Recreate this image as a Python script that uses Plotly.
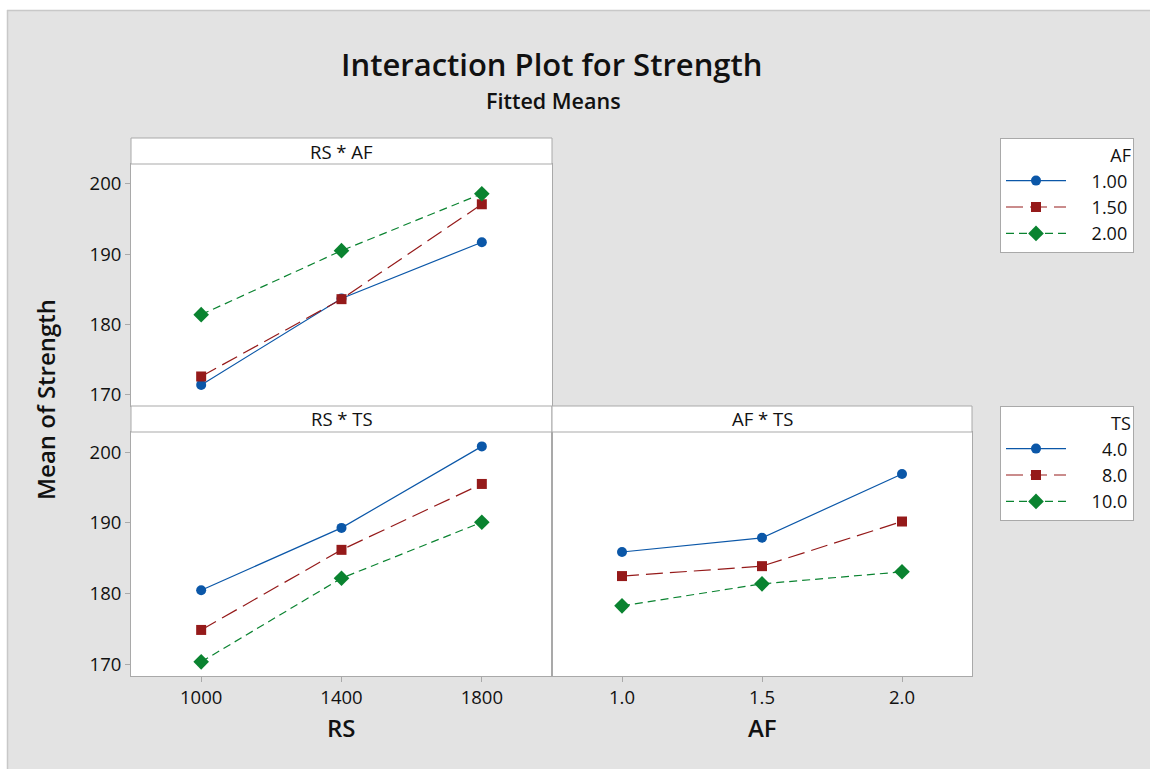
import plotly.graph_objects as go

# ---- data: fitted means of Strength ----
RS_LEVELS = [1000, 1400, 1800]
AF_LEVELS = [1.0, 1.5, 2.0]
AF_TICKTEXT = ["1.0", "1.5", "2.0"]
AF_LABELS = ["1.00", "1.50", "2.00"]
TS_LABELS = ["4.0", "8.0", "10.0"]

# RS * AF  (one list per AF level, over RS)
RS_AF_AF100 = [171.4, 183.7, 191.7]
RS_AF_AF150 = [172.6, 183.6, 197.1]
RS_AF_AF200 = [181.4, 190.5, 198.6]

# RS * TS  (one list per TS level, over RS)
RS_TS_TS4 = [180.5, 189.3, 200.8]
RS_TS_TS8 = [174.9, 186.2, 195.5]
RS_TS_TS10 = [170.4, 182.2, 190.1]

# AF * TS  (one list per TS level, over AF)
AF_TS_TS4 = [185.9, 187.9, 196.9]
AF_TS_TS8 = [182.5, 183.9, 190.2]
AF_TS_TS10 = [178.3, 181.4, 183.1]

Y_TICKS = [170, 180, 190, 200]

# ---- styling ----
W, H = 1150, 769
FONT = "Open Sans"
BG = "#e3e3e3"
FRAME = "#a9a9a9"
INK = "#111111"
COLORS = ["#0b57a8", "#951a1a", "#0a8330"]
SYMBOLS = ["circle", "square", "diamond"]
SIZES = [10, 10, 12]
DASHES = ["solid", "17px,7px", "8px,5px"]


def px(x):
    return x / W


def py(y):
    return 1 - y / H


def right_align(label, width=6):
    # pad with figure spaces so legend labels line up on the right
    return "\u2007" * (width - len(label)) + label


# panel geometry (pixels)
XL0, XL1, XR1 = 131, 552, 972
TOP_STRIP, TOP_DATA, MID, BOT_DATA, BOT = 138, 164, 406, 432, 676
Y_RANGE = [168.4, 202.83]

fig = go.Figure()


def add_series(xvals, series, labels, xa, ya, legend, show):
    for i, (vals, lab) in enumerate(zip(series, labels)):
        fig.add_trace(go.Scatter(
            x=xvals, y=vals, name=right_align(lab), mode="lines+markers",
            xaxis=xa, yaxis=ya, legend=legend, showlegend=show,
            line=dict(color=COLORS[i], width=1.2, dash=DASHES[i]),
            marker=dict(color=COLORS[i], symbol=SYMBOLS[i], size=SIZES[i]),
        ))


add_series(RS_LEVELS, [RS_AF_AF100, RS_AF_AF150, RS_AF_AF200], AF_LABELS,
           "x", "y", "legend", True)
add_series(RS_LEVELS, [RS_TS_TS4, RS_TS_TS8, RS_TS_TS10], TS_LABELS,
           "x2", "y2", "legend2", True)
add_series(AF_LEVELS, [AF_TS_TS4, AF_TS_TS8, AF_TS_TS10], TS_LABELS,
           "x3", "y3", "legend2", False)

tickfont = dict(family=FONT, size=18.5, color=INK)
common_axis = dict(showgrid=False, zeroline=False, showline=True, mirror=True,
                   linecolor=FRAME, linewidth=1, fixedrange=True)
tick_axis = dict(ticks="outside", ticklen=5, tickcolor=FRAME, tickfont=tickfont)


def legend_box(title, top):
    return dict(
        x=px(1000), y=py(top), xanchor="left", yanchor="top",
        bgcolor="white", bordercolor=FRAME, borderwidth=1,
        font=dict(family=FONT, size=18, color=INK),
        title=dict(text=title, side="top right",
                   font=dict(family=FONT, size=18, color=INK)),
        itemwidth=60,
        itemclick=False, itemdoubleclick=False,
    )


fig.update_layout(
    width=W, height=H,
    margin=dict(l=0, r=0, t=0, b=0),
    paper_bgcolor=BG, plot_bgcolor="white",
    font=dict(family=FONT, color=INK),
    xaxis=dict(domain=[px(XL0), px(XL1)], range=[800, 2000], anchor="y",
               showticklabels=False, ticks="", **common_axis),
    yaxis=dict(domain=[py(MID), py(TOP_DATA)], range=Y_RANGE, anchor="x",
               tickvals=Y_TICKS, **tick_axis, **common_axis),
    xaxis2=dict(domain=[px(XL0), px(XL1)], range=[800, 2000], anchor="y2",
                tickvals=RS_LEVELS, **tick_axis, **common_axis),
    yaxis2=dict(domain=[py(BOT), py(BOT_DATA)], range=Y_RANGE, anchor="x2",
                tickvals=Y_TICKS, **tick_axis, **common_axis),
    xaxis3=dict(domain=[px(XL1), px(XR1)], range=[0.75, 2.25], anchor="y3",
                tickvals=AF_LEVELS, ticktext=AF_TICKTEXT,
                **tick_axis, **common_axis),
    yaxis3=dict(domain=[py(BOT), py(BOT_DATA)], range=Y_RANGE, anchor="x3",
                showticklabels=False, ticks="", **common_axis),
    legend=legend_box("AF", 138),
    legend2=legend_box("TS", 406),
)

shapes = [
    # white margin along the top and left edge, with a light rule
    dict(type="rect", xref="paper", yref="paper",
         x0=0, x1=1, y0=py(10), y1=1, fillcolor="white", line_width=0),
    dict(type="rect", xref="paper", yref="paper",
         x0=0, x1=px(7), y0=0, y1=1, fillcolor="white", line_width=0),
    dict(type="line", xref="paper", yref="paper",
         x0=px(7), x1=1, y0=py(10.5), y1=py(10.5),
         line=dict(color="#c8c8c8", width=1.5)),
    dict(type="line", xref="paper", yref="paper",
         x0=px(7.5), x1=px(7.5), y0=0, y1=py(10),
         line=dict(color="#c8c8c8", width=1.5)),
    # strip headers
    dict(type="rect", xref="paper", yref="paper",
         x0=px(XL0), x1=px(XL1), y0=py(TOP_DATA), y1=py(TOP_STRIP),
         fillcolor="white", line=dict(color=FRAME, width=1)),
    dict(type="rect", xref="paper", yref="paper",
         x0=px(XL0), x1=px(XL1), y0=py(BOT_DATA), y1=py(MID),
         fillcolor="white", line=dict(color=FRAME, width=1)),
    dict(type="rect", xref="paper", yref="paper",
         x0=px(XL1), x1=px(XR1), y0=py(BOT_DATA), y1=py(MID),
         fillcolor="white", line=dict(color=FRAME, width=1)),
]
fig.update_layout(shapes=shapes)

strip_font = dict(family=FONT, size=18.5, color=INK)
annotations = [
    dict(text="RS * AF", x=px((XL0 + XL1) / 2), y=py((TOP_STRIP + TOP_DATA) / 2),
         font=strip_font),
    dict(text="RS * TS", x=px((XL0 + XL1) / 2), y=py((MID + BOT_DATA) / 2),
         font=strip_font),
    dict(text="AF * TS", x=px((XL1 + XR1) / 2), y=py((MID + BOT_DATA) / 2),
         font=strip_font),
    dict(text="Interaction Plot for Strength", x=px(551), y=py(64),
         font=dict(family=FONT, size=31, color=INK, weight=600)),
    dict(text="Fitted Means", x=px(553), y=py(101),
         font=dict(family=FONT, size=21.5, color=INK, weight=600)),
    dict(text="Mean of Strength", x=px(45), y=py(400), textangle=-90,
         font=dict(family=FONT, size=24, color=INK, weight=600)),
    dict(text="RS", x=px(341), y=py(727),
         font=dict(family=FONT, size=24, color=INK, weight=600)),
    dict(text="AF", x=px(762), y=py(727),
         font=dict(family=FONT, size=24, color=INK, weight=600)),
]
for a in annotations:
    a.update(xref="paper", yref="paper", showarrow=False,
             xanchor="center", yanchor="middle")
fig.update_layout(annotations=annotations)

fig.write_html("out.html", config={"displayModeBar": False})
